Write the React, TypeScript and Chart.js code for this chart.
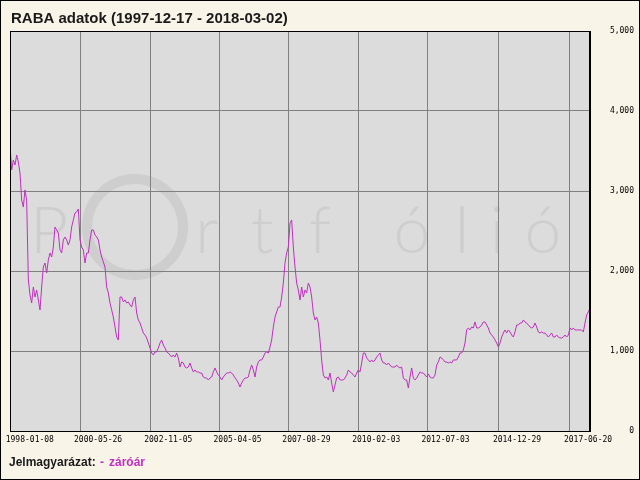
import React, { useEffect, useRef } from 'react';
import { Chart, registerables } from 'chart.js';

Chart.register(...registerables);

const titleText = 'RABA adatok (1997-12-17 - 2018-03-02)';
const startDate = '1997-12-17';
const endDate = '2018-03-02';
const tickLabels = [
  '1998-01-08', '2000-05-26', '2002-11-05', '2005-04-05', '2007-08-29',
  '2010-02-03', '2012-07-03', '2014-12-29', '2017-06-20',
];
const yTickValues = [0, 1000, 2000, 3000, 4000, 5000];
const legendTitle = 'Jelmagyarázat:';
const seriesName = 'záróár';
const watermarkLetters = ['P', 'r', 't', 'f', 'ó', 'l', 'i', 'ó'];

// closing prices (HUF), evenly sampled over the period
const closePrices = [
  3575, 3263, 3388, 3325, 3450, 3363, 3225, 2888, 2800, 3013, 2888, 1888, 1700, 1600, 1800, 1675, 1763, 1638, 1513, 1800,
  2050, 2100, 1975, 2138, 2225, 2175, 2300, 2550, 2513, 2475, 2263, 2225, 2388, 2425, 2388, 2325, 2388, 2550, 2638, 2725,
  2738, 2775, 2388, 2300, 2263, 2100, 2225, 2225, 2388, 2513, 2513, 2450, 2425, 2388, 2263, 2175, 2113, 2050, 1800, 1725,
  1600, 1513, 1425, 1300, 1175, 1138, 1675, 1675, 1613, 1638, 1600, 1613, 1575, 1550, 1638, 1675, 1475, 1388, 1350, 1288,
  1225, 1200, 1163, 1100, 1038, 975, 950, 988, 988, 1038, 1100, 1138, 1075, 1038, 988, 975, 950, 925, 950, 925,
  975, 913, 800, 863, 850, 800, 788, 800, 850, 788, 738, 763, 738, 738, 725, 725, 675, 663, 663, 638,
  663, 675, 738, 788, 738, 700, 675, 638, 675, 700, 725, 725, 738, 725, 700, 663, 638, 600, 550, 600,
  638, 663, 663, 675, 763, 825, 763, 675, 800, 863, 888, 888, 925, 975, 988, 975, 1050, 1138, 1300, 1425,
  1488, 1550, 1550, 1675, 1850, 2100, 2225, 2300, 2600, 2638, 2300, 2050, 1850, 1763, 1638, 1800, 1675, 1763, 1725, 1850,
  1800, 1675, 1475, 1388, 1425, 1350, 1138, 888, 700, 663, 675, 638, 725, 600, 488, 575, 663, 675, 638, 638,
  638, 663, 700, 763, 738, 725, 700, 675, 725, 763, 738, 850, 975, 975, 913, 888, 863, 888, 863, 888,
  925, 950, 975, 888, 850, 850, 825, 850, 825, 800, 800, 800, 825, 800, 788, 800, 663, 638, 638, 538,
  675, 788, 663, 638, 663, 700, 738, 725, 725, 700, 675, 713, 675, 663, 663, 700, 825, 863, 925, 913,
  888, 863, 863, 850, 863, 850, 888, 888, 888, 925, 975, 975, 1013, 1100, 1263, 1288, 1263, 1300, 1288, 1363,
  1288, 1288, 1300, 1325, 1363, 1363, 1325, 1288, 1225, 1200, 1175, 1138, 1100, 1050, 1100, 1175, 1225, 1263, 1225, 1263,
  1238, 1200, 1175, 1238, 1325, 1325, 1350, 1350, 1388, 1363, 1350, 1325, 1300, 1288, 1300, 1350, 1300, 1238, 1225, 1238,
  1225, 1225, 1200, 1175, 1200, 1225, 1175, 1175, 1200, 1175, 1163, 1163, 1175, 1200, 1175, 1200, 1288, 1263, 1288, 1263,
  1263, 1263, 1263, 1263, 1238, 1350, 1450, 1488, 1538,
];

const DAY = 86400000;
const dayOffset = (d: string) => (Date.parse(d + 'T00:00:00Z') - Date.parse(startDate + 'T00:00:00Z')) / DAY;
const totalDays = dayOffset(endDate);
const tickDays = tickLabels.map(dayOffset);

const LINE_COLOR = '#c030c0';

export default function App() {
  const ref = useRef<HTMLCanvasElement | null>(null);

  useEffect(() => {
    const canvas = ref.current;
    if (!canvas) return;

    const decor = {
      id: 'decor',
      beforeDraw(chart: any) {
        const { ctx, chartArea: a } = chart;
        ctx.save();
        ctx.fillStyle = '#f8f4e8';
        ctx.fillRect(0, 0, chart.width, chart.height);
        ctx.fillStyle = '#dcdcdc';
        ctx.fillRect(a.left, a.top, a.right - a.left, a.bottom - a.top);
        // watermark
        ctx.beginPath();
        ctx.rect(a.left, a.top, a.right - a.left, a.bottom - a.top);
        ctx.clip();
        ctx.fillStyle = '#cecece';
        ctx.strokeStyle = '#cecece';
        ctx.font = '300 66px Lato, "Open Sans", sans-serif';
        ctx.textAlign = 'center';
        ctx.textBaseline = 'alphabetic';
        const xs = [49, 0, 207, 262, 320, 412, 462, 497, 543];
        watermarkLetters.forEach((ch, i) => {
          const x = i === 0 ? xs[0] : xs[i + 1];
          ctx.fillText(ch, x, 253);
        });
        ctx.lineWidth = 10;
        ctx.beginPath();
        ctx.arc(135, 227, 48, 0, Math.PI * 2);
        ctx.stroke();
        ctx.restore();
      },
      afterDraw(chart: any) {
        const { ctx, chartArea: a } = chart;
        ctx.save();
        ctx.strokeStyle = '#000';
        ctx.lineWidth = 1;
        ctx.strokeRect(Math.round(a.left) + 0.5, Math.round(a.top) + 0.5,
          Math.round(a.right - a.left) - 1, Math.round(a.bottom - a.top));
        ctx.strokeRect(0.5, 0.5, chart.width - 1, chart.height - 1);
        // title
        ctx.fillStyle = '#1a1a1a';
        ctx.font = 'bold 15px "Liberation Sans", Arial, sans-serif';
        ctx.textAlign = 'left';
        ctx.textBaseline = 'alphabetic';
        ctx.fillText(titleText, 11, 23);
        // legend
        ctx.font = 'bold 12px "Liberation Sans", Arial, sans-serif';
        ctx.fillStyle = '#1a1a1a';
        ctx.fillText(legendTitle, 9, 466);
        ctx.fillStyle = LINE_COLOR;
        ctx.fillText('-', 100, 466);
        ctx.fillText(seriesName, 109, 466);
        ctx.restore();
      },
    };

    const chart = new Chart(canvas, {
      type: 'line',
      data: {
        datasets: [
          {
            label: seriesName,
            data: closePrices.map((v, i) => ({ x: (i * totalDays) / (closePrices.length - 1), y: v })),
            borderColor: LINE_COLOR,
            borderWidth: 1,
            pointRadius: 0,
            tension: 0,
            fill: false,
          },
        ],
      },
      options: {
        animation: false,
        responsive: false,
        devicePixelRatio: 1,
        layout: { padding: { left: 10, top: 31, right: 6, bottom: 0 } },
        plugins: { legend: { display: false }, title: { display: false }, tooltip: { enabled: false } },
        scales: {
          x: {
            type: 'linear',
            min: 0,
            max: totalDays,
            afterBuildTicks: (scale: any) => {
              scale.ticks = tickDays.map((v) => ({ value: v }));
            },
            afterFit: (scale: any) => {
              scale.height = 49;
            },
            grid: {
              color: (c: any) => (c.index === 0 ? 'rgba(0,0,0,0)' : '#808080'),
              drawTicks: false,
            },
            border: { display: true, color: '#000' },
            ticks: {
              autoSkip: false,
              maxRotation: 0,
              align: 'start',
              labelOffset: -6,
              padding: 4,
              color: '#000',
              font: { family: '"DejaVu Sans Mono", monospace', size: 8 },
              callback: (_v: any, i: number) => tickLabels[i],
            },
          },
          y: {
            position: 'right',
            min: 0,
            max: 5000,
            afterBuildTicks: (scale: any) => {
              scale.ticks = yTickValues.map((v) => ({ value: v }));
            },
            afterFit: (scale: any) => {
              scale.width = 44;
            },
            grid: { color: '#808080', drawTicks: false },
            border: { display: true, color: '#000' },
            ticks: {
              crossAlign: 'far',
              padding: 0,
              color: '#000',
              font: { family: '"DejaVu Sans Mono", monospace', size: 8 },
              callback: (v: any) => Number(v).toLocaleString('en-US'),
            },
          },
        },
      },
      plugins: [decor],
    });

    return () => chart.destroy();
  }, []);

  return (
    <div style={{ position: 'fixed', left: 0, top: 0, width: 640, height: 480 }}>
      <canvas ref={ref} width={640} height={480} style={{ display: 'block', width: 640, height: 480 }} />
    </div>
  );
}
